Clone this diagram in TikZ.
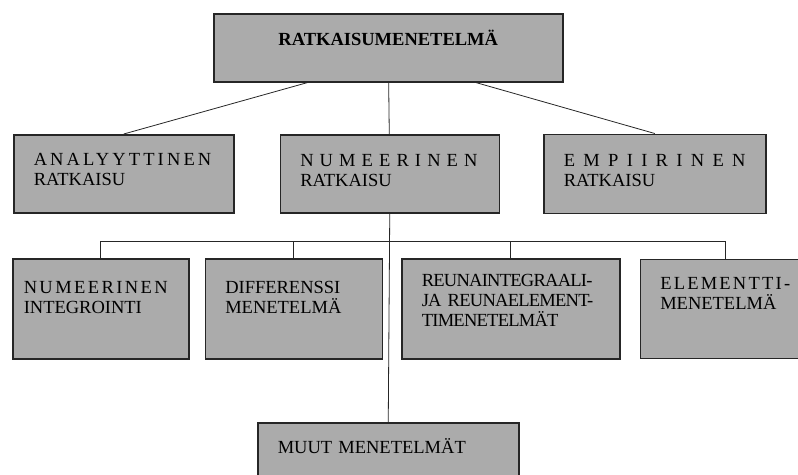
\documentclass[tikz,border=0pt]{standalone}
\usepackage{fontspec}
\setmainfont{Liberation Serif}
\usepackage{xcolor}
\usepackage{tikz}
\usetikzlibrary{positioning}
\definecolor{dither}{gray}{0.67}
\hyphenpenalty=10000
\tikzstyle{root} = [rectangle, draw=black!85, line width=1.5pt, fill=dither, inner sep=0pt, text width=349pt, text height=32pt, text depth=36pt, align=center, font=\fontsize{18.5}{20}\selectfont\bfseries]
\tikzstyle{method} = [rectangle, draw=black!85, line width=1.5pt, fill=dither, inner xsep=20pt, inner ysep=0pt, align=left]
\tikzstyle{link} = [draw=black!85, line width=0.8pt]

\begin{document}
\begin{tikzpicture}[x=1pt, y=-1pt, font=\fontsize{18.5}{20}\selectfont]
		\useasboundingbox (0,0) rectangle (798,474);
		\clip (0,0) rectangle (798,474);
		\node (Ratkaisumenetelma)[root, anchor=north west] at (213,13) {RATKAISUMENETELMÄ};
		% first level
		\node (Analyyttinen)[method, anchor=north west, text width=180pt, text height=31pt, text depth=47pt] at (13,134) {{\addfontfeature{LetterSpace=17}ANALYYTTINEN}\\RATKAISU};
		\node (Numeerinen)[method, right = 45pt of Analyyttinen, text width=179pt, text height=32pt, text depth=46pt] {{\addfontfeature{LetterSpace=33}NUMEERINEN}\\RATKAISU};
		\node (Empiirinen)[method, right = 43pt of Numeerinen, text width=182pt, text height=32pt, text depth=47pt] {{\addfontfeature{LetterSpace=45}EMPIIRINEN}\\RATKAISU};
		% numerical methods
		\node (Integrointi)[method, anchor=north west, inner xsep=11pt, text width=154pt, text height=35pt, text depth=65pt] at (12,258) {{\addfontfeature{LetterSpace=13}NUMEERINEN}\\INTEGROINTI};
		\node (Differenssi)[method, right = 15pt of Integrointi, text width=137pt, text height=35pt, text depth=65pt] {DIFFERENSSI\\MENETELMÄ};
		\node (Reunaelementti)[method, right = 18pt of Differenssi, text width=178pt, text height=28pt, text depth=72pt] {\addfontfeature{LetterSpace=-4}REUNAINTEGRAALI-\\\mbox{JA REUNAELEMENT-}\\TIMENETELMÄT};
		\node (Elementti)[method, right = 19pt of Reunaelementti, text width=130pt, text height=30pt, text depth=69pt] {{\addfontfeature{LetterSpace=12}ELEMENTTI-}\\MENETELMÄ};
		\node (Muut)[method, anchor=north west, text width=221pt, text height=31pt, text depth=39pt] at (257,422) {MUUT MENETELMÄT};
		\coordinate (bus) at ([yshift=-28pt]Numeerinen.south);
		\draw [link] ([xshift=-80.5pt]Ratkaisumenetelma.south) -- (Analyyttinen.north);
		\draw [link] (Ratkaisumenetelma) -- (Numeerinen);
		\draw [link] ([xshift=87.5pt]Ratkaisumenetelma.south) -- (Empiirinen.north);
		\draw [link] (Numeerinen.south) -- (Muut.north);
		\draw [link] (Integrointi.north) |- (bus) -| (Elementti.north);
		\draw [link] (Differenssi.north) -- (Differenssi.north |- bus);
		\draw [link] (Reunaelementti.north) -- (Reunaelementti.north |- bus);
	\end{tikzpicture}
\end{document}
